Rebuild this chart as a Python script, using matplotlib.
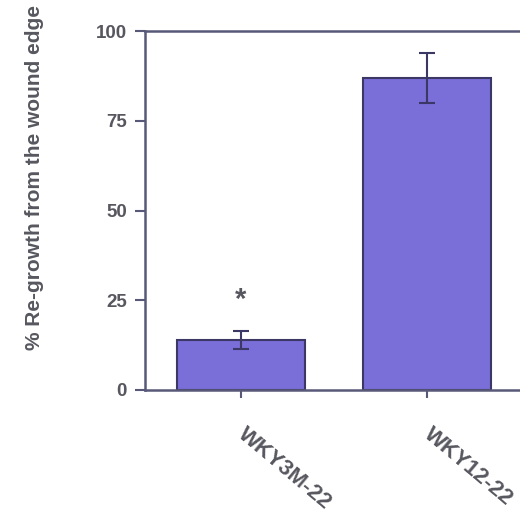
import matplotlib.pyplot as plt

categories = ['WKY3M-22', 'WKY12-22']
regrowth = [14, 87]
errors = [2.5, 7]
yticks = [0, 25, 50, 75, 100]

txt = '#57575f'
axcol = '#585878'
fill = '#7a6ed8'
edge = '#3b3866'
font = ['Liberation Sans', 'DejaVu Sans']

fig = plt.figure(figsize=(5.2, 5.27), dpi=100)
ax = fig.add_axes([145/520, 1 - 390/527, 375/520, 359/527])

xs = list(range(len(categories)))
ax.bar(xs, regrowth, width=0.69, color=fill, edgecolor=edge, linewidth=1.5, zorder=2)
ax.errorbar(xs, regrowth, yerr=errors, fmt='none', ecolor=edge, elinewidth=1.5,
            capsize=5.5, capthick=1.5, zorder=3)

# significance marker over the first bar
ax.text(xs[0], regrowth[0] + 11, '*', ha='center', va='center', fontsize=21,
        fontweight='bold', color=txt, family=font)

ax.set_xlim(-0.516, 1.5)
ax.set_ylim(0, 100)
ax.set_yticks(yticks)
ax.set_yticklabels([str(v) for v in yticks], family=font, fontsize=13.5,
                   fontweight='bold', color=txt)
ax.set_xticks(xs)
ax.set_xticklabels(categories, family=font, fontsize=16, fontweight='bold',
                   color=txt, rotation=-40, ha='left', va='center',
                   rotation_mode='anchor')
ax.tick_params(axis='y', direction='out', length=7, width=1.5, color=axcol, pad=6)
ax.tick_params(axis='x', direction='out', length=6, width=1.5, color=axcol, pad=24)

for side in ['left', 'top', 'bottom']:
    ax.spines[side].set_color(axcol)
    ax.spines[side].set_linewidth(1.8)
ax.spines['right'].set_visible(False)

ax.set_ylabel('% Re-growth from the wound edge', fontsize=15, fontweight='bold',
              color=txt, family=font)
ax.yaxis.set_label_coords(-0.27, 0.593)

fig.savefig('out.png', dpi=100)
